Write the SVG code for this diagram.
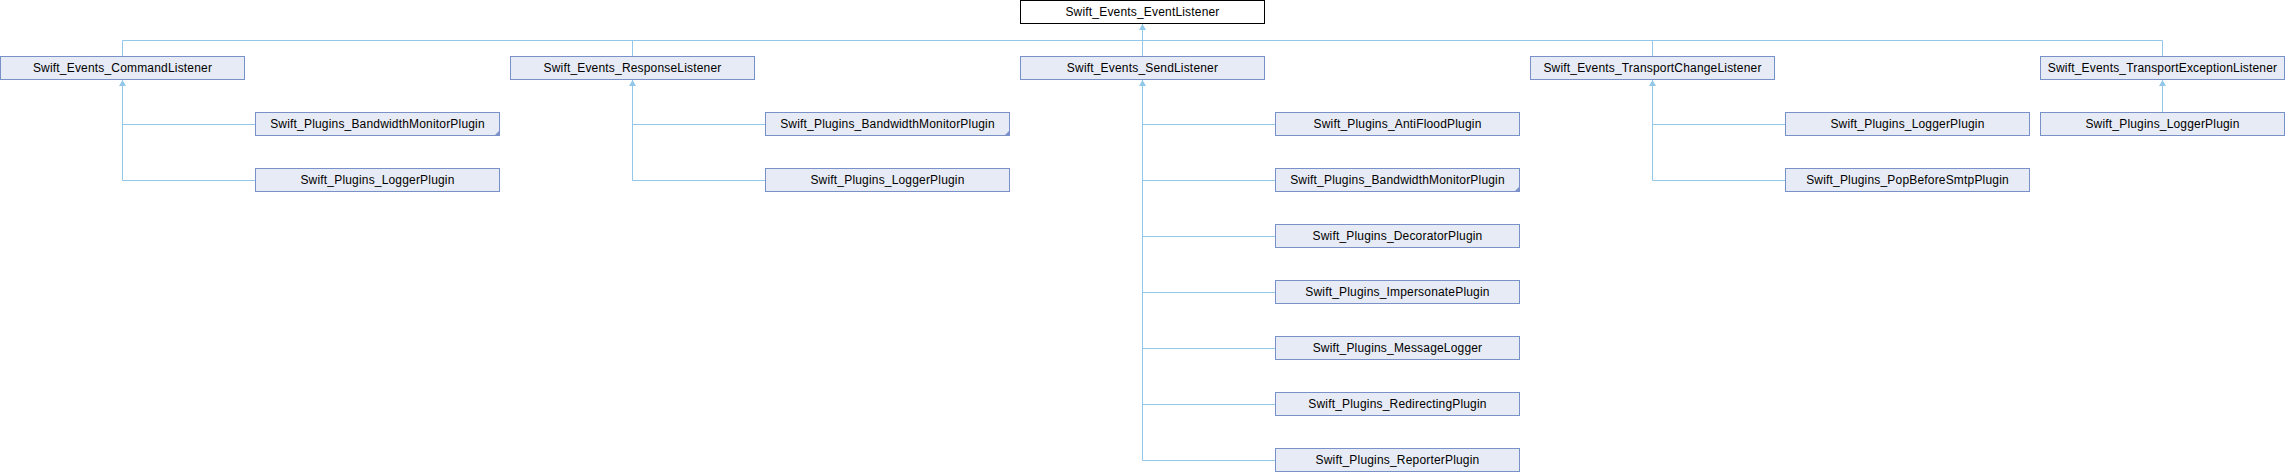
<svg xmlns="http://www.w3.org/2000/svg" xmlns:xlink="http://www.w3.org/1999/xlink" width="2285" height="472" viewBox="0 0 2285 472">
<style>
.n rect{fill:#e7ebf5;stroke:#7a90c8;stroke-width:1}
.n.root rect{fill:#ffffff;stroke:#000000}
.n text{font-family:"Liberation Sans",Arial,sans-serif;font-size:12px;letter-spacing:0.18px;fill:#000000;text-anchor:middle}
.n .more{fill:#7a90c8;stroke:none}
#edges path{fill:none;stroke:#92c7ea;stroke-width:1}
#edges use{fill:#92c7ea}
</style>
<defs>
<path id="ah" d="M0,0 L-3.5,6 L3.5,6 Z"/>
</defs>
<g id="edges">
<path d="M1142.5,24 V56.5 M122.5,56.5 V40.5 H2162.5 V56.5 M632.5,40.5 V56.5 M1652.5,40.5 V56.5"/>
<use xlink:href="#ah" x="1142.5" y="24"/>
<path d="M122.5,80 V180.5 H255.5 M122.5,124.5 H255.5"/>
<use xlink:href="#ah" x="122.5" y="80"/>
<path d="M632.5,80 V180.5 H765.5 M632.5,124.5 H765.5"/>
<use xlink:href="#ah" x="632.5" y="80"/>
<path d="M1142.5,80 V460.5 H1275.5 M1142.5,124.5 H1275.5 M1142.5,180.5 H1275.5 M1142.5,236.5 H1275.5 M1142.5,292.5 H1275.5 M1142.5,348.5 H1275.5 M1142.5,404.5 H1275.5"/>
<use xlink:href="#ah" x="1142.5" y="80"/>
<path d="M1652.5,80 V180.5 H1785.5 M1652.5,124.5 H1785.5"/>
<use xlink:href="#ah" x="1652.5" y="80"/>
<path d="M2162.5,80 V112.5"/>
<use xlink:href="#ah" x="2162.5" y="80"/>
</g>
<g id="n_eventlistener" class="n root"><rect x="1020.5" y="0.5" width="244" height="23"/><text x="1142.5" y="16.3">Swift_Events_EventListener</text></g>
<g id="n_commandlistener" class="n"><rect x="0.5" y="56.5" width="244" height="23"/><text x="122.5" y="72.3">Swift_Events_CommandListener</text></g>
<g id="n_responselistener" class="n"><rect x="510.5" y="56.5" width="244" height="23"/><text x="632.5" y="72.3">Swift_Events_ResponseListener</text></g>
<g id="n_sendlistener" class="n"><rect x="1020.5" y="56.5" width="244" height="23"/><text x="1142.5" y="72.3">Swift_Events_SendListener</text></g>
<g id="n_transportchangelistener" class="n"><rect x="1530.5" y="56.5" width="244" height="23"/><text x="1652.5" y="72.3">Swift_Events_TransportChangeListener</text></g>
<g id="n_transportexceptionlistener" class="n"><rect x="2040.5" y="56.5" width="244" height="23"/><text x="2162.5" y="72.3">Swift_Events_TransportExceptionListener</text></g>
<g id="n_cmd_bandwidth" class="n"><rect x="255.5" y="112.5" width="244" height="23"/><path class="more" d="M499.5,130.5 V135.5 H494.5 Z"/><text x="377.5" y="128.3">Swift_Plugins_BandwidthMonitorPlugin</text></g>
<g id="n_cmd_logger" class="n"><rect x="255.5" y="168.5" width="244" height="23"/><text x="377.5" y="184.3">Swift_Plugins_LoggerPlugin</text></g>
<g id="n_resp_bandwidth" class="n"><rect x="765.5" y="112.5" width="244" height="23"/><path class="more" d="M1009.5,130.5 V135.5 H1004.5 Z"/><text x="887.5" y="128.3">Swift_Plugins_BandwidthMonitorPlugin</text></g>
<g id="n_resp_logger" class="n"><rect x="765.5" y="168.5" width="244" height="23"/><text x="887.5" y="184.3">Swift_Plugins_LoggerPlugin</text></g>
<g id="n_antiflood" class="n"><rect x="1275.5" y="112.5" width="244" height="23"/><text x="1397.5" y="128.3">Swift_Plugins_AntiFloodPlugin</text></g>
<g id="n_send_bandwidth" class="n"><rect x="1275.5" y="168.5" width="244" height="23"/><path class="more" d="M1519.5,186.5 V191.5 H1514.5 Z"/><text x="1397.5" y="184.3">Swift_Plugins_BandwidthMonitorPlugin</text></g>
<g id="n_decorator" class="n"><rect x="1275.5" y="224.5" width="244" height="23"/><text x="1397.5" y="240.3">Swift_Plugins_DecoratorPlugin</text></g>
<g id="n_impersonate" class="n"><rect x="1275.5" y="280.5" width="244" height="23"/><text x="1397.5" y="296.3">Swift_Plugins_ImpersonatePlugin</text></g>
<g id="n_messagelogger" class="n"><rect x="1275.5" y="336.5" width="244" height="23"/><text x="1397.5" y="352.3">Swift_Plugins_MessageLogger</text></g>
<g id="n_redirecting" class="n"><rect x="1275.5" y="392.5" width="244" height="23"/><text x="1397.5" y="408.3">Swift_Plugins_RedirectingPlugin</text></g>
<g id="n_reporter" class="n"><rect x="1275.5" y="448.5" width="244" height="23"/><text x="1397.5" y="464.3">Swift_Plugins_ReporterPlugin</text></g>
<g id="n_tc_logger" class="n"><rect x="1785.5" y="112.5" width="244" height="23"/><text x="1907.5" y="128.3">Swift_Plugins_LoggerPlugin</text></g>
<g id="n_popbeforesmtp" class="n"><rect x="1785.5" y="168.5" width="244" height="23"/><text x="1907.5" y="184.3">Swift_Plugins_PopBeforeSmtpPlugin</text></g>
<g id="n_te_logger" class="n"><rect x="2040.5" y="112.5" width="244" height="23"/><text x="2162.5" y="128.3">Swift_Plugins_LoggerPlugin</text></g>
</svg>
